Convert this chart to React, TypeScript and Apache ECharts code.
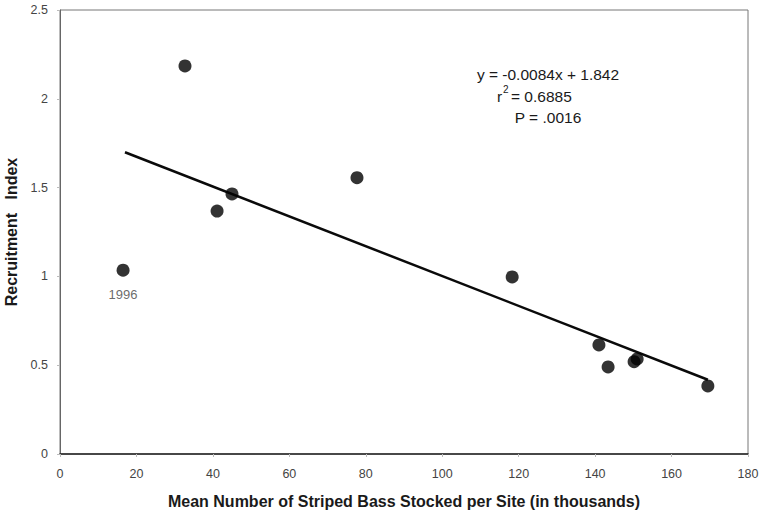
import React, { useEffect, useRef } from "react";
import * as echarts from "echarts";

const stocked = [16.5, 32.7, 41.1, 45.0, 77.7, 118.3, 141.0, 143.4, 150.2, 151.0, 169.5];
const recruitment = [1.035, 2.185, 1.368, 1.464, 1.556, 0.997, 0.614, 0.49, 0.52, 0.535, 0.383];
const slope = -0.0084;
const intercept = 1.842;
const fitRange = [17, 169.5];
const xTicks = { min: 0, max: 180, interval: 20 };
const yTicks = { min: 0, max: 2.5, interval: 0.5 };

export default function App() {
  const ref = useRef<HTMLDivElement>(null);
  useEffect(() => {
    if (!ref.current) return;
    const chart = echarts.init(ref.current, null, { renderer: "svg" });
    const font = "Liberation Sans, Arial, sans-serif";
    const pts = stocked.map((x, i) => [x, recruitment[i]]);
    const fit = fitRange.map((x) => [x, slope * x + intercept]);
    const annot = { fontFamily: font, fontSize: 15.5, fill: "#1a1a1a" };
    chart.setOption({
      animation: false,
      backgroundColor: "#fff",
      textStyle: { fontFamily: font },
      grid: {
        left: 60, right: 12, top: 10, bottom: 59,
        show: true, borderColor: "#777", borderWidth: 1,
        outerBoundsMode: "none", containLabel: false,
      },
      xAxis: {
        type: "value",
        ...xTicks,
        name: "Mean Number of Striped Bass Stocked per Site (in thousands)",
        nameLocation: "middle",
        nameGap: 39,
        nameTextStyle: { fontFamily: font, fontWeight: "bold", fontSize: 16, color: "#1a1a1a" },
        axisLine: { show: true, lineStyle: { color: "#222", width: 1.5 } },
        axisTick: { show: true, length: 3, lineStyle: { color: "#bbb" } },
        axisLabel: { fontFamily: font, fontSize: 12.5, color: "#444", margin: 13 },
        splitLine: { show: false },
      },
      yAxis: {
        type: "value",
        ...yTicks,
        name: "Recruitment   Index",
        nameLocation: "middle",
        nameGap: 38,
        nameTextStyle: { fontFamily: font, fontWeight: "bold", fontSize: 16, color: "#1a1a1a" },
        axisLine: { show: true, lineStyle: { color: "#666", width: 1 } },
        axisTick: { show: true, length: 3, lineStyle: { color: "#bbb" } },
        axisLabel: { fontFamily: font, fontSize: 12.5, color: "#444", margin: 12 },
        splitLine: { show: false },
      },
      series: [
        {
          type: "line",
          data: fit,
          symbol: "none",
          lineStyle: { color: "#0a0a0a", width: 2.5 },
          silent: true,
          z: 2,
        },
        {
          type: "scatter",
          data: pts,
          symbol: "circle",
          symbolSize: 13,
          itemStyle: { color: "#000" },
          z: 3,
          label: {
            show: true,
            position: "bottom",
            distance: 11,
            fontFamily: font,
            fontSize: 13,
            color: "#444",
            formatter: (p: any) => (p.dataIndex === 0 ? "1996" : ""),
          },
        },
      ],
      graphic: [
        {
          type: "text",
          x: 548,
          y: 74,
          style: { text: "y = -0.0084x + 1.842", align: "center", verticalAlign: "middle", ...annot },
        },
        {
          type: "text",
          x: 497,
          y: 96,
          style: { text: "r", align: "left", verticalAlign: "middle", ...annot },
        },
        {
          type: "text",
          x: 503,
          y: 89,
          style: { text: "2", align: "left", verticalAlign: "middle", fontFamily: font, fontSize: 10, fill: "#1a1a1a" },
        },
        {
          type: "text",
          x: 511,
          y: 96,
          style: { text: "= 0.6885", align: "left", verticalAlign: "middle", ...annot },
        },
        {
          type: "text",
          x: 548,
          y: 117,
          style: { text: "P = .0016", align: "center", verticalAlign: "middle", ...annot },
        },
      ],
    });
    return () => chart.dispose();
  }, []);
  return <div ref={ref} style={{ width: 760, height: 513, position: "absolute", left: 0, top: 0 }} />;
}
